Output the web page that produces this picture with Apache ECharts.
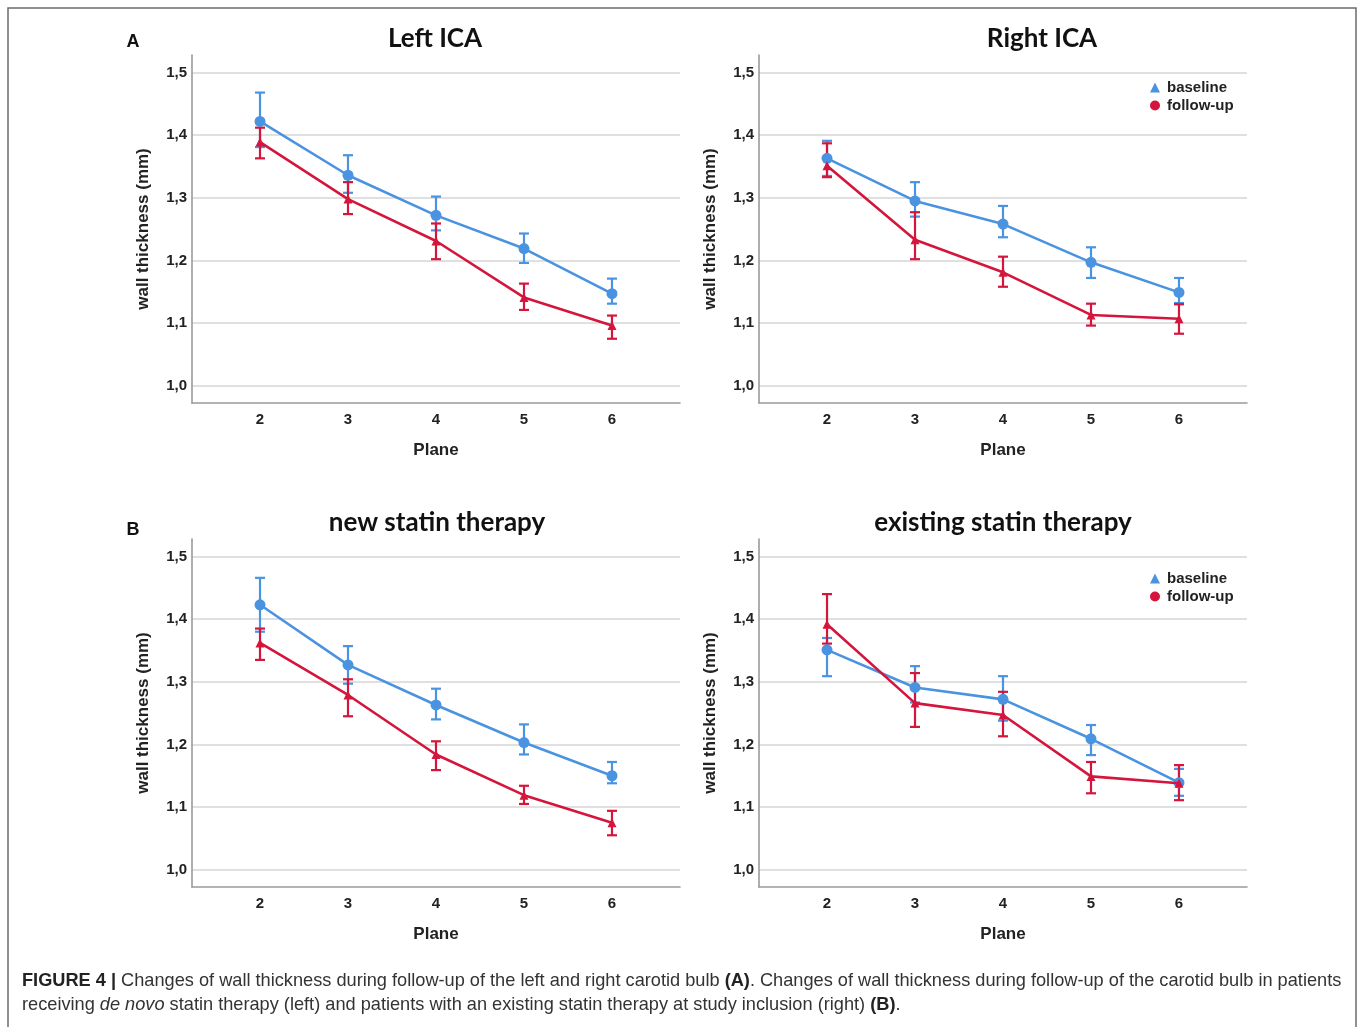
<!DOCTYPE html>
<html>
<head>
<meta charset="utf-8">
<script src="https://cdn.jsdelivr.net/npm/echarts@6/dist/echarts.min.js"></script>
<style>
html,body{margin:0;padding:0;background:#fff;}
#chart{width:1360px;height:1027px;}
</style>
</head>
<body>
<div id="chart"></div>
<script>
// ---- data ----
const planes = [2, 3, 4, 5, 6];
const yTicks = [1.0, 1.1, 1.2, 1.3, 1.4, 1.5];
const seriesNames = ['baseline', 'follow-up'];
const panelTitles = ['Left ICA', 'Right ICA', 'new statin therapy', 'existing statin therapy'];

const leftBaseline      = [1.422, 1.336, 1.272, 1.219, 1.147];
const leftBaselineLow   = [1.381, 1.308, 1.248, 1.196, 1.131];
const leftBaselineHigh  = [1.468, 1.368, 1.302, 1.243, 1.171];
const leftFollow        = [1.389, 1.298, 1.231, 1.141, 1.096];
const leftFollowLow     = [1.363, 1.274, 1.202, 1.121, 1.075];
const leftFollowHigh    = [1.412, 1.325, 1.259, 1.163, 1.112];

const rightBaseline     = [1.363, 1.295, 1.258, 1.197, 1.149];
const rightBaselineLow  = [1.335, 1.270, 1.237, 1.172, 1.132];
const rightBaselineHigh = [1.391, 1.325, 1.287, 1.221, 1.172];
const rightFollow       = [1.351, 1.233, 1.181, 1.113, 1.107];
const rightFollowLow    = [1.333, 1.202, 1.158, 1.096, 1.083];
const rightFollowHigh   = [1.387, 1.277, 1.206, 1.131, 1.130];

const newBaseline       = [1.423, 1.327, 1.263, 1.203, 1.150];
const newBaselineLow    = [1.380, 1.297, 1.240, 1.184, 1.138];
const newBaselineHigh   = [1.466, 1.357, 1.289, 1.232, 1.172];
const newFollow         = [1.362, 1.279, 1.184, 1.119, 1.075];
const newFollowLow      = [1.335, 1.245, 1.159, 1.105, 1.055];
const newFollowHigh     = [1.385, 1.304, 1.205, 1.134, 1.094];

const existBaseline     = [1.351, 1.291, 1.272, 1.209, 1.139];
const existBaselineLow  = [1.309, 1.267, 1.238, 1.183, 1.118];
const existBaselineHigh = [1.370, 1.325, 1.309, 1.231, 1.161];
const existFollow       = [1.392, 1.266, 1.247, 1.149, 1.138];
const existFollowLow    = [1.361, 1.228, 1.213, 1.122, 1.111];
const existFollowHigh   = [1.440, 1.314, 1.284, 1.172, 1.167];

// ---- styling / layout ----
const BLUE = '#4a93e0';
const RED = '#d4153c';
const AXIS = '#9a9a9a';
const GRIDC = '#d6d6d6';

const panels = [
  { b: [leftBaseline, leftBaselineLow, leftBaselineHigh], f: [leftFollow, leftFollowLow, leftFollowHigh], left: 192, top: 55, legendTop: null, titleX: 430, titleY: 34 },
  { b: [rightBaseline, rightBaselineLow, rightBaselineHigh], f: [rightFollow, rightFollowLow, rightFollowHigh], left: 759, top: 55, legendTop: 75, titleX: 1037, titleY: 34 },
  { b: [newBaseline, newBaselineLow, newBaselineHigh], f: [newFollow, newFollowLow, newFollowHigh], left: 192, top: 539, legendTop: null, titleX: 432, titleY: 518 },
  { b: [existBaseline, existBaselineLow, existBaselineHigh], f: [existFollow, existFollowLow, existFollowHigh], left: 759, top: 539, legendTop: 566, titleX: 998, titleY: 518 }
];
const GW = 488, GH = 348;

function errRender(params, api) {
  const x = api.value(0), lo = api.value(1), hi = api.value(2);
  const p1 = api.coord([x, lo]);
  const p2 = api.coord([x, hi]);
  const c = api.visual('color');
  const w = 5;
  const st = { stroke: c, lineWidth: 2.2 };
  return {
    type: 'group',
    children: [
      { type: 'line', shape: { x1: p1[0], y1: p1[1], x2: p2[0], y2: p2[1] }, style: st },
      { type: 'line', shape: { x1: p1[0] - w, y1: p1[1], x2: p1[0] + w, y2: p1[1] }, style: st },
      { type: 'line', shape: { x1: p2[0] - w, y1: p2[1], x2: p2[0] + w, y2: p2[1] }, style: st }
    ]
  };
}

const grids = [], xAxes = [], yAxes = [], series = [], titles = [], legends = [];
const FONT = 'Liberation Sans, Arial, sans-serif';
const labelFont = { fontFamily: FONT, fontWeight: 'bold', fontSize: 15, color: '#222' };
const nameFont = { fontFamily: FONT, fontWeight: 'bold', fontSize: 17, color: '#222' };

panels.forEach((p, i) => {
  grids.push({ left: p.left, top: p.top, width: GW, height: GH, containLabel: false });
  xAxes.push({
    type: 'value', gridIndex: i, min: 1.227, max: 6.773,
    name: 'Plane', nameLocation: 'middle', nameGap: 39,
    nameTextStyle: nameFont,
    axisLine: { show: true, lineStyle: { color: AXIS, width: 1.6 } },
    axisTick: { show: false, customValues: planes },
    axisLabel: Object.assign({ customValues: planes, margin: 9 }, labelFont),
    splitLine: { show: false }
  });
  yAxes.push({
    type: 'value', gridIndex: i, min: 0.9724, max: 1.528,
    name: 'wall thickness (mm)', nameLocation: 'middle', nameGap: 40,
    nameTextStyle: nameFont,
    axisLine: { show: true, lineStyle: { color: AXIS, width: 1.6 } },
    axisTick: { show: false, customValues: yTicks },
    axisLabel: Object.assign({ customValues: yTicks, margin: 5, formatter: v => v.toFixed(1).replace('.', ',') }, labelFont),
    splitLine: { show: true, lineStyle: { color: GRIDC, width: 1.6 } }
  });
  const mk = (arr) => planes.map((x, k) => [x, arr[1][k], arr[2][k]]);
  const mkLine = (arr) => planes.map((x, k) => [x, arr[0][k]]);
  series.push({ type: 'custom', name: 'baseline', xAxisIndex: i, yAxisIndex: i, renderItem: errRender, itemStyle: { color: BLUE }, encode: { x: 0, y: [1, 2] }, data: mk(p.b), z: 2, silent: true });
  series.push({ type: 'custom', name: 'follow-up', xAxisIndex: i, yAxisIndex: i, renderItem: errRender, itemStyle: { color: RED }, encode: { x: 0, y: [1, 2] }, data: mk(p.f), z: 2, silent: true });
  series.push({ type: 'line', name: 'baseline', xAxisIndex: i, yAxisIndex: i, data: mkLine(p.b), symbol: 'circle', symbolSize: 11, lineStyle: { color: BLUE, width: 2.6 }, itemStyle: { color: BLUE }, z: 3 });
  series.push({ type: 'line', name: 'follow-up', xAxisIndex: i, yAxisIndex: i, data: mkLine(p.f), symbol: 'triangle', symbolSize: 9, lineStyle: { color: RED, width: 2.6 }, itemStyle: { color: RED }, z: 4 });
  titles.push({
    text: panelTitles[i], left: p.titleX, top: p.titleY, textAlign: 'center', textVerticalAlign: 'middle',
    textStyle: { fontFamily: 'Lato, sans-serif', fontWeight: 'bold', fontSize: 26, color: '#111' }
  });
  if (p.legendTop !== null) {
    legends.push({
      orient: 'vertical', left: 1145, top: p.legendTop, itemWidth: 10, itemHeight: 10, itemGap: 3,
      data: [{ name: 'baseline', icon: 'triangle' }, { name: 'follow-up', icon: 'circle' }],
      textStyle: { fontFamily: FONT, fontWeight: 'bold', fontSize: 15, color: '#222', padding: [0, 0, 0, 2] },
      selectedMode: false
    });
  }
});

titles.push({ text: 'A', left: 128, top: 37, textAlign: 'center', textVerticalAlign: 'middle', textStyle: { fontFamily: FONT, fontWeight: 'bold', fontSize: 18, color: '#111' } });
titles.push({ text: 'B', left: 128, top: 525, textAlign: 'center', textVerticalAlign: 'middle', textStyle: { fontFamily: FONT, fontWeight: 'bold', fontSize: 18, color: '#111' } });

const captionLine1 = '{b|FIGURE 4 |} Changes of wall thickness during follow-up of the left and right carotid bulb {b|(A)}. Changes of wall thickness during follow-up of the carotid bulb in patients';
const captionLine2 = 'receiving {i|de novo} statin therapy (left) and patients with an existing statin therapy at study inclusion (right) {b|(B)}.';
const CAPSIZE = 18.2;

const option = {
  animation: false,
  backgroundColor: '#fff',
  title: titles,
  legend: legends,
  grid: grids,
  xAxis: xAxes,
  yAxis: yAxes,
  series: series,
  graphic: [
    { type: 'rect', shape: { x: 8, y: 8, width: 1348, height: 1040 }, style: { fill: 'none', stroke: '#6b6b6b', lineWidth: 1.5 }, silent: true },
    {
      type: 'text', left: 22, top: 969,
      style: {
        text: captionLine1 + '\n' + captionLine2,
        fontFamily: FONT, fontSize: CAPSIZE, fill: '#333', lineHeight: 24,
        rich: {
          b: { fontFamily: FONT, fontSize: CAPSIZE, fontWeight: 'bold', fill: '#222', lineHeight: 24 },
          i: { fontFamily: FONT, fontSize: CAPSIZE, fontStyle: 'italic', fill: '#333', lineHeight: 24 }
        }
      }
    }
  ]
};

const chart = echarts.init(document.getElementById('chart'), null, { renderer: 'canvas' });
chart.setOption(option);
</script>
</body>
</html>
